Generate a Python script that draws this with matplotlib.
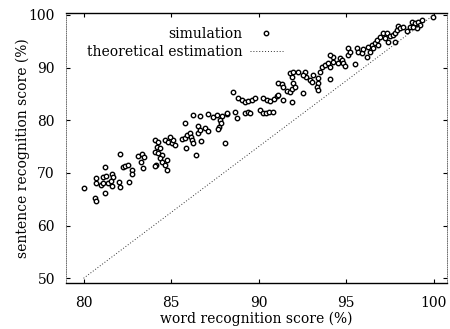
import matplotlib
matplotlib.use("Agg")
import matplotlib.pyplot as plt

# word recognition score (%) vs sentence recognition score (%)
sim_word = [
    80.00, 80.68, 80.74, 80.74, 81.14, 81.31, 81.25, 81.65, 81.71, 80.74,
    80.97, 81.14, 81.37, 81.54, 81.60, 82.05, 82.11, 82.62, 81.25, 82.28,
    82.39, 82.56, 82.74, 82.79, 83.42, 82.11, 83.13, 83.36, 83.48, 83.30,
    84.16, 84.10, 84.27, 84.50, 84.39, 84.50, 84.67, 84.79, 84.10, 84.79,
    84.10, 84.27, 84.22, 84.39, 84.67, 84.84, 85.07, 85.13, 85.24, 84.96,
    85.64, 85.81, 85.93, 85.87, 86.44, 85.81, 86.10, 86.15, 86.21, 86.27,
    86.55, 86.72, 86.55, 86.67, 86.95, 87.12, 86.27, 86.67, 87.12, 87.41,
    87.64, 87.92, 88.21, 87.81, 87.86, 87.75, 87.69, 88.09, 88.21, 88.66,
    88.77, 88.55, 88.83, 89.06, 89.23, 89.40, 89.63, 89.80, 89.23, 89.40,
    89.52, 90.09, 90.26, 90.43, 90.60, 90.83, 90.26, 90.48, 90.66, 90.88,
    91.05, 91.11, 91.34, 91.40, 91.11, 91.40, 91.62, 91.79, 91.91, 91.91,
    91.79, 91.97, 91.91, 92.25, 91.97, 92.08, 92.54, 92.65, 92.71, 92.93,
    93.05, 93.11, 93.39, 93.39, 93.33, 92.54, 93.62, 93.50, 93.79, 94.07,
    94.07, 93.96, 94.25, 94.25, 94.07, 94.53, 94.64, 94.76, 94.81, 94.93,
    95.10, 95.10, 95.21, 95.50, 95.61, 95.67, 95.90, 95.95, 96.18, 96.24,
    96.47, 96.52, 96.35, 96.64, 96.75, 96.81, 96.92, 97.09, 97.21, 97.32,
    97.38, 97.49, 97.66, 97.78, 97.89, 97.95, 98.06, 98.23, 97.78, 98.63,
    98.75, 98.92, 99.09, 99.20, 99.03, 98.80, 99.32, 99.94, 98.46, 93.39,
]
sim_sent = [
    67.2, 65.3, 64.7, 69.0, 69.2, 69.4, 71.1, 69.8, 69.2, 68.1,
    67.7, 68.1, 68.1, 68.5, 67.5, 68.3, 67.3, 68.3, 66.2, 71.1,
    71.3, 71.5, 70.6, 69.8, 70.9, 73.6, 73.2, 73.6, 73.0, 72.1,
    71.5, 74.0, 73.8, 73.4, 72.8, 72.1, 71.5, 70.6, 71.3, 72.5,
    76.3, 75.9, 74.9, 74.7, 76.3, 75.9, 75.7, 76.3, 75.3, 76.8,
    76.5, 76.6, 77.2, 74.7, 73.4, 79.5, 77.6, 76.8, 76.3, 75.7,
    77.6, 76.1, 78.9, 78.2, 78.5, 78.0, 81.0, 80.8, 81.2, 80.6,
    81.0, 80.8, 81.2, 80.1, 79.5, 78.7, 78.4, 75.7, 81.4, 81.6,
    80.4, 85.4, 84.2, 83.9, 83.5, 83.7, 83.9, 84.2, 81.4, 81.6,
    81.4, 82.0, 81.4, 81.4, 81.6, 81.6, 84.2, 83.9, 83.7, 84.0,
    84.6, 87.1, 86.9, 86.3, 84.8, 83.9, 85.6, 85.4, 85.9, 83.5,
    89.0, 89.2, 88.2, 89.2, 87.1, 86.3, 85.2, 89.2, 88.2, 87.7,
    87.3, 88.6, 88.0, 87.1, 86.3, 88.6, 90.1, 89.2, 90.5, 90.1,
    87.8, 90.9, 91.1, 92.0, 92.4, 90.9, 91.8, 91.5, 90.9, 90.3,
    92.4, 93.7, 93.0, 90.7, 93.7, 93.0, 92.8, 93.5, 92.0, 93.9,
    94.3, 93.7, 93.0, 94.7, 95.3, 94.3, 95.8, 96.6, 95.6, 96.6,
    94.9, 96.0, 96.2, 96.6, 97.2, 97.9, 97.5, 97.7, 94.9, 97.7,
    98.7, 98.5, 98.7, 98.1, 97.5, 97.7, 99.1, 99.6, 97.0, 85.8,
]

theo_word = [80, 100]
theo_sent = [50, 100]

x_ticks = [80, 85, 90, 95, 100]
y_ticks = [50, 60, 70, 80, 90, 100]

plt.rcParams['font.family'] = ['DejaVu Serif']

fig = plt.figure(figsize=(4.5, 3.29), dpi=100)
ax = fig.add_axes([0.1467, 0.1389, 0.8466, 0.8207])

ax.plot(sim_word, sim_sent, linestyle='none', marker='o', markersize=3.2,
        markerfacecolor='white', markeredgecolor='black', markeredgewidth=1.0,
        label='simulation')
ax.plot(theo_word, theo_sent, linestyle=(0, (1, 2)), color='#333333',
        linewidth=0.7, label='theoretical estimation')

ax.set_xlim(79.0, 100.75)
ax.set_ylim(49.05, 100.3)
ax.set_xticks(x_ticks)
ax.set_yticks(y_ticks)
ax.tick_params(direction='in', length=3, width=0.8, top=True, right=True,
               labelsize=10)
ax.tick_params(axis='x', pad=9)
ax.tick_params(axis='y', pad=8)

for side in ['top', 'bottom']:
    ax.spines[side].set_linewidth(1.0)
for side in ['left', 'right']:
    ax.spines[side].set_linewidth(0.6)
    ax.spines[side].set_linestyle(':')
    ax.spines[side].set_color('#555555')

ax.set_xlabel('word recognition score (%)', fontsize=10)
ax.set_ylabel('sentence recognition score (%)', fontsize=10)
ax.xaxis.set_label_coords(0.5, -0.105)
ax.yaxis.set_label_coords(-0.095, 0.5)

ax.legend(loc='upper right', bbox_to_anchor=(290 / 450, 1 - 20 / 329),
          bbox_transform=fig.transFigure, frameon=False, markerfirst=False,
          fontsize=10, borderpad=0, handlelength=2.4, handletextpad=0.5,
          labelspacing=0.3)

fig.savefig('out.png', dpi=100)
